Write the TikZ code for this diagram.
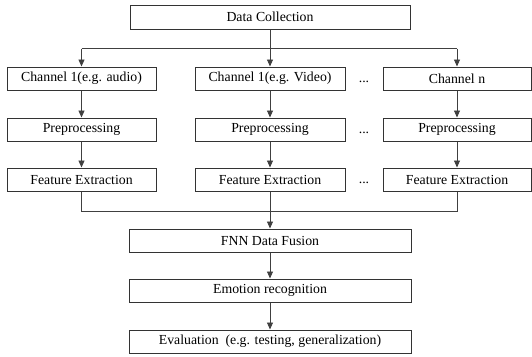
\documentclass[tikz,border=0pt]{standalone}
\usepackage{fontspec}
\setmainfont{Liberation Serif}
\usetikzlibrary{arrows.meta}
\begin{document}
\begin{tikzpicture}[x=1pt,y=-1pt,
  box/.style={draw=black!80,line width=1pt,inner sep=0pt,minimum height=23pt,font=\fontsize{13.8}{15}\selectfont},
  line/.style={draw=black!75,line width=0.9pt},
  arr/.style={line,-{Triangle[length=7pt,width=6pt]}},
  dots/.style={anchor=base,inner sep=0pt,font=\fontsize{13.8}{15}\selectfont}]
\useasboundingbox (0,0) rectangle (532,356);
\node[box,minimum width=280pt,minimum height=24pt] (dc) at (270,17) {Data Collection};
\node[box,minimum width=149pt] (c1) at (81.5,78.5) {Channel 1(e.g. audio)};
\node[box,minimum width=150pt] (c2) at (270,78.5) {Channel 1(e.g. Video)};
\node[box,minimum width=148pt] (c3) at (457,78.5) {Channel n};
\node[box,minimum width=149pt] (p1) at (81.5,129.5) {Preprocessing};
\node[box,minimum width=150pt] (p2) at (270,129.5) {Preprocessing};
\node[box,minimum width=148pt] (p3) at (457,129.5) {Preprocessing};
\node[box,minimum width=149pt] (f1) at (81.5,179.5) {Feature Extraction};
\node[box,minimum width=150pt] (f2) at (270,179.5) {Feature Extraction};
\node[box,minimum width=148pt] (f3) at (457,179.5) {Feature Extraction};
\node[dots] (d1) at (364,82) {...};
\node[dots] (d2) at (364,133) {...};
\node[dots] (d3) at (364,183) {...};
\node[box,minimum width=282pt] (fnn) at (270,240.5) {FNN Data Fusion};
\node[box,minimum width=282pt] (em) at (270,290.5) {Emotion recognition};
\node[box,minimum width=282pt] (ev) at (270,341.5) {Evaluation\ \ (e.g. testing, generalization)};
\coordinate (s) at (270,48.5);
\coordinate (m) at (270,211);
\draw[line] (c1.north |- s) -- (c3.north |- s);
\draw[arr] (dc) -- (c2);
\draw[arr] (c1.north |- s) -- (c1);
\draw[arr] (c3.north |- s) -- (c3);
\foreach \i in {1,2,3} {
  \draw[arr] (c\i) -- (p\i);
  \draw[arr] (p\i) -- (f\i);
}
\draw[line] (f1.south) -- (f1.south |- m) -- (f3.south |- m) -- (f3.south);
\draw[arr] (f2) -- (fnn);
\draw[arr] (fnn) -- (em);
\draw[arr] (em) -- (ev);
\end{tikzpicture}
\end{document}
